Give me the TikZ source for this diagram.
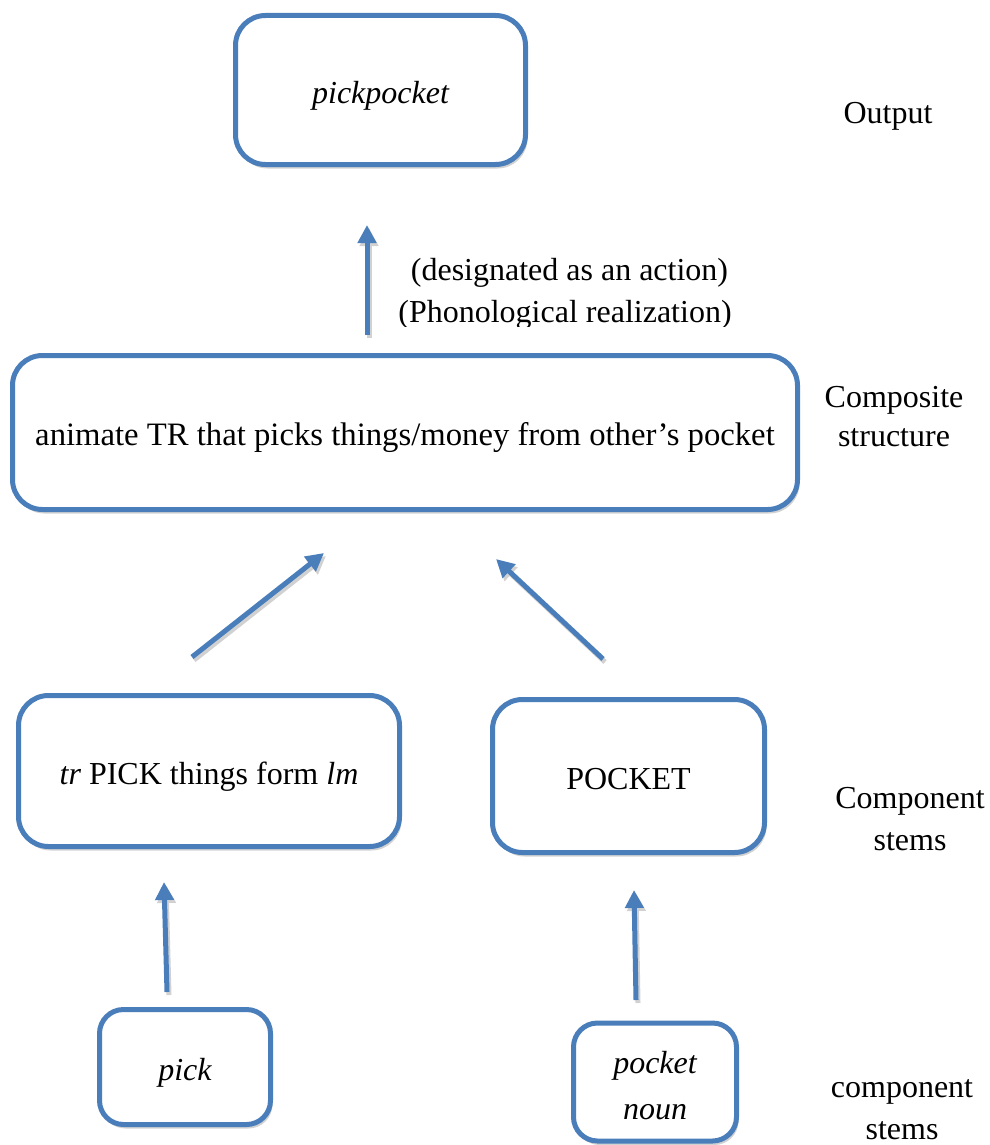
\documentclass[tikz,border=0pt]{standalone}
\usepackage{fontspec}
\setmainfont{Liberation Serif}
\usetikzlibrary{arrows.meta,shadows}
\definecolor{boxblue}{RGB}{74,126,187}
\begin{document}
\begin{tikzpicture}[x=1pt,y=-1pt,
  txt/.style={font=\fontsize{32}{42}\selectfont},
  box/.style={txt, draw=boxblue, line width=5pt, rounded corners=30pt, fill=white,
    inner sep=0pt, align=center,
    drop shadow={shadow xshift=2pt, shadow yshift=-4pt, fill=black!25, opacity=0.7}},
  oneline/.style={text height=30pt, text depth=4pt},
  smallbox/.style={box, rounded corners=24pt},
  link/.style={draw=boxblue, line width=5pt, -{Triangle[width=18pt,length=18pt]}},
  linkshadow/.style={draw=black!18, line width=5pt, -{Triangle[width=18pt,length=18pt]}},
  lbl/.style={txt, inner sep=0pt, anchor=base}]
\useasboundingbox (0,0) rectangle (989,1145);

% boxes
\node[box, oneline, minimum width=290pt, minimum height=149pt] (out) at (380.5,90)
  {\itshape pickpocket};
\node[box, oneline, minimum width=785pt, minimum height=154pt, font=\fontsize{32.7}{42}\selectfont]
  (comp) at (405,432.5) {animate TR that picks things/money from other’s pocket};
\node[box, oneline, minimum width=381pt, minimum height=151pt] (stemA) at (209,771)
  {\textit{tr} PICK things form \textit{lm}};
\node[box, oneline, minimum width=272pt, minimum height=153pt] (stemB) at (628.5,776) {POCKET};
\node[smallbox, oneline, minimum width=171pt, minimum height=115pt] (lexA) at (185,1067)
  {\itshape pick};
\node[smallbox, minimum width=163pt, minimum height=118pt] (lexB) at (655,1082)
  {\raisebox{-6pt}[\height][\depth]{\begin{tabular}{@{}c@{}}\itshape pocket\\[4pt] \itshape noun\end{tabular}}};

% arrow ends
\coordinate (t1) at (367,335);  \coordinate (h1) at (367,225);
\coordinate (t2) at (192,657);  \coordinate (h2) at (324,553);
\coordinate (t3) at (603,659);  \coordinate (h3) at (496,559);
\coordinate (t4) at (167,992);  \coordinate (h4) at (164,882);
\coordinate (t5) at (636,1000); \coordinate (h5) at (634,890);

\foreach \a/\b in {t1/h1,t2/h2,t3/h3,t4/h4,t5/h5}{
  \draw[linkshadow] ([shift={(2,3)}]\a) -- ([shift={(2,3)}]\b);
  \draw[link] (\a) -- (\b);
}

% arrow annotation
\node[lbl] (note1) at (569.5,280) {(designated as an action)};
\begin{scope}
  \clip (380,290) rectangle (770,326);
  \node[lbl] (note2) at (565,322) {(Phonological realization)};
\end{scope}

% level labels
\node[lbl] (lv1) at (888,124) {Output};
\node[lbl] (lv2a) at (894,407) {Composite};
\node[lbl] (lv2b) at (894,446) {structure};
\node[lbl] (lv3a) at (910,808) {Component};
\node[lbl] (lv3b) at (910,850) {stems};
\node[lbl] (lv4a) at (902,1097) {component};
\node[lbl] (lv4b) at (902,1139) {stems};
\end{tikzpicture}
\end{document}
